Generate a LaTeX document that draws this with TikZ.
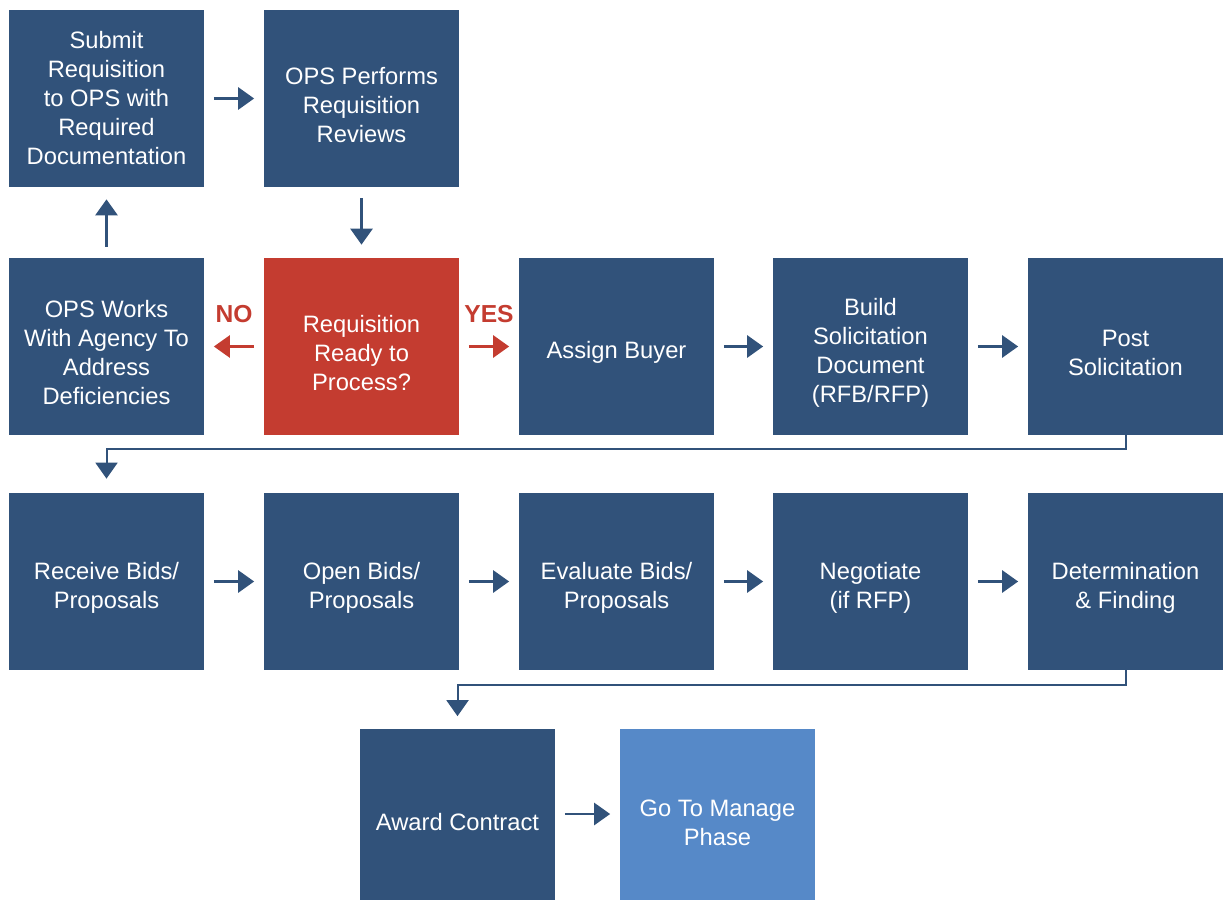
\documentclass[tikz,border=0pt]{standalone}
\usepackage{fontspec}
\setmainfont{Liberation Sans}
\usepackage{xcolor}
\usepackage{tikz}
\usetikzlibrary{positioning, arrows.meta, calc}

\definecolor{opsblue}{HTML}{31527A}
\definecolor{opsred}{HTML}{C43C30}
\definecolor{opslight}{HTML}{5689C8}

\newcommand{\topgap}{\rule{0pt}{17pt}}
\newcommand{\lowgap}{\rule{0pt}{19pt}}

\begin{document}
\begin{tikzpicture}[
    stepbox/.style={rectangle, fill=opsblue, minimum height=3.54cm, minimum width=3.9cm, inner sep=0pt, align=center, text=white, font=\fontsize{13.5}{16.5}\selectfont},
    arr/.style={-{Triangle[length=0.32cm, width=0.44cm]}, line width=0.055cm, color=opsblue, shorten <=0.19cm, shorten >=0.19cm},
    elbow/.style={-{Triangle[length=0.32cm, width=0.44cm]}, line width=0.04cm, color=opsblue, shorten >=0.28cm},
    lbl/.style={font=\fontsize{14}{16}\selectfont\bfseries, text=opsred}
]

\useasboundingbox (0,0) rectangle (24.52,18);

% first rows
\node[stepbox] (submit) at (2.13, 16.03) {Submit\\Requisition\\to OPS with\\Required\\Documentation};
\node[stepbox] (review) at (7.23, 16.03) {\topgap OPS Performs\\Requisition\\Reviews};

\node[stepbox] (fix) at (2.13, 11.07) {\topgap OPS Works\\With Agency To\\Address\\Deficiencies};
\node[stepbox, fill=opsred] (ready) at (7.23, 11.07) {\topgap Requisition\\Ready to\\Process?};
\node[stepbox] (buyer) at (12.33, 11.07) {\topgap Assign Buyer};
\node[stepbox] (build) at (17.41, 11.07) {\topgap Build\\Solicitation\\Document\\(RFB/RFP)};
\node[stepbox] (post) at (22.51, 11.07) {\topgap Post\\Solicitation};

\node[stepbox] (recv) at (2.13, 6.37) {\topgap Receive Bids/\\Proposals};
\node[stepbox] (open) at (7.23, 6.37) {\topgap Open Bids/\\Proposals};
\node[stepbox] (eval) at (12.33, 6.37) {\topgap Evaluate Bids/\\Proposals};
\node[stepbox] (nego) at (17.41, 6.37) {\topgap Negotiate\\(if RFP)};
\node[stepbox] (det) at (22.51, 6.37) {\topgap Determination\\\& Finding};

\node[stepbox, minimum height=3.42cm] (award) at (9.15, 1.72) {\lowgap Award Contract};
\node[stepbox, minimum height=3.42cm, fill=opslight] (manage) at (14.35, 1.72) {\lowgap Go To Manage\\Phase};

\draw[arr] (submit) -- (review);
\draw[arr, shorten <=0.22cm, shorten >=0.26cm] (review) -- (ready);
\draw[arr, shorten <=0.22cm, shorten >=0.24cm] (fix) -- (submit);
\draw[arr, color=opsred] (ready) -- (fix) node[midway, above=0.34cm, lbl] {NO};
\draw[arr, color=opsred] (ready) -- (buyer) node[midway, above=0.34cm, lbl] {YES};
\draw[arr] (buyer) -- (build);
\draw[arr] (build) -- (post);

\draw[elbow] (post.south) -- ++(0,-0.28) -| (recv.north);

\draw[arr] (recv) -- (open);
\draw[arr] (open) -- (eval);
\draw[arr] (eval) -- (nego);
\draw[arr] (nego) -- (det);

\draw[elbow, shorten >=0.24cm] (det.south) -- ++(0,-0.3) -| (award.north);

\draw[arr] (award) -- (manage);

\end{tikzpicture}
\end{document}
